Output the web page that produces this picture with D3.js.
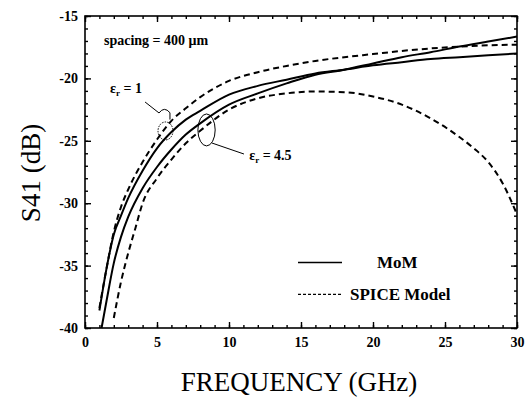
<!DOCTYPE html>
<html>
<head>
<meta charset="utf-8">
<script src="https://cdn.jsdelivr.net/npm/d3@7"></script>
<style>
  html, body { margin: 0; padding: 0; background: #fff; }
  svg { display: block; }
  svg text { font-family: 'Liberation Serif', 'Times New Roman', serif; }
</style>
</head>
<body>
<svg id="chart" width="531" height="399"></svg>
<script>
// ---------- data ----------
const xTicks = [0, 5, 10, 15, 20, 25, 30];
const yTicks = [-40, -35, -30, -25, -20, -15];

const freqE1MoM = [1, 1.5, 2, 2.5, 3, 4, 5, 6, 7, 8, 10, 12, 14, 16, 18, 20, 22, 24, 26, 28, 30];
const s41E1MoM  = [-38.6, -35.2, -32.5, -31.0, -29.6, -27.4, -25.6, -24.3, -23.3, -22.6, -21.3, -20.6, -20.1, -19.6, -19.3, -18.95, -18.7, -18.45, -18.3, -18.15, -18.0];

const freqE1Spice = [1, 1.5, 2, 2.5, 3, 4, 5, 6, 7, 8, 10, 12, 14, 16, 18, 20, 22, 24, 26, 28, 30];
const s41E1Spice  = [-38.4, -35.2, -32.3, -30.3, -28.9, -26.7, -24.9, -23.4, -22.4, -21.5, -20.2, -19.5, -19.0, -18.6, -18.3, -18.05, -17.8, -17.6, -17.45, -17.35, -17.3];

const freqE45MoM = [1.15, 1.5, 2, 2.5, 3, 4, 5, 6, 7, 8, 10, 12, 14, 16, 18, 20, 22, 24, 26, 28, 30];
const s41E45MoM  = [-40, -37.8, -34.8, -32.7, -31.1, -28.8, -27.1, -25.7, -24.5, -23.6, -22.1, -21.2, -20.4, -19.7, -19.3, -18.8, -18.3, -17.9, -17.45, -17.05, -16.65];

const freqE45Spice = [2, 2.5, 3, 3.5, 4, 5, 6, 7, 8, 10, 12, 14, 16, 18, 20, 22, 24, 26, 27, 28, 29, 30];
const s41E45Spice  = [-39.2, -36.3, -34.0, -32.0, -30.0, -28.0, -26.5, -25.2, -24.2, -22.5, -21.6, -21.2, -21.05, -21.1, -21.45, -22.1, -23.2, -24.7, -25.6, -26.7, -28.4, -30.9];

const legendLabels = ["MoM", "SPICE Model"];
const spacingLabel = "spacing = 400 \u03bcm";

// ---------- layout ----------
const svg = d3.select("#chart");
const L = 85, R = 517, T = 16, B = 328;
const x = d3.scaleLinear().domain([0, 30]).range([L, R]);
const y = d3.scaleLinear().domain([-40, -15]).range([B, T]);
const serif = "'Liberation Serif', 'Times New Roman', serif";

// frame
svg.append("rect").attr("x", L).attr("y", T).attr("width", R - L).attr("height", B - T)
  .attr("fill", "none").attr("stroke", "#000").attr("stroke-width", 1.6);

// axes (inward ticks)
function styleAxis(g) {
  g.attr("font-family", null);
  g.select(".domain").remove();
  g.selectAll("line").attr("stroke", "#000").attr("stroke-width", 1.4);
  g.selectAll("text").style("font-family", serif).attr("font-weight", "bold")
    .attr("font-size", 14).attr("fill", "#000");
}
const minorX = d3.range(0, 31, 1), minorY = d3.range(-40, -14, 1);

svg.append("g").attr("transform", `translate(0,${B})`)
  .call(d3.axisBottom(x).tickValues(minorX).tickSize(-3).tickFormat("")).call(styleAxis);
svg.append("g").attr("transform", `translate(0,${B})`)
  .call(d3.axisBottom(x).tickValues(xTicks).tickSize(-6).tickPadding(9).tickFormat(d => String(d))).call(styleAxis);
svg.append("g").attr("transform", `translate(0,${T})`)
  .call(d3.axisTop(x).tickValues(minorX).tickSize(-3).tickFormat("")).call(styleAxis);
svg.append("g").attr("transform", `translate(0,${T})`)
  .call(d3.axisTop(x).tickValues(xTicks).tickSize(-6).tickFormat("")).call(styleAxis);

svg.append("g").attr("transform", `translate(${L},0)`)
  .call(d3.axisLeft(y).tickValues(minorY).tickSize(-3).tickFormat("")).call(styleAxis);
svg.append("g").attr("transform", `translate(${L},0)`)
  .call(d3.axisLeft(y).tickValues(yTicks).tickSize(-6).tickPadding(7).tickFormat(d => String(d))).call(styleAxis);
svg.append("g").attr("transform", `translate(${R},0)`)
  .call(d3.axisRight(y).tickValues(minorY).tickSize(-3).tickFormat("")).call(styleAxis);
svg.append("g").attr("transform", `translate(${R},0)`)
  .call(d3.axisRight(y).tickValues(yTicks).tickSize(-6).tickFormat("")).call(styleAxis);

// axis titles
svg.append("text").attr("x", 299).attr("y", 391).attr("text-anchor", "middle")
  .style("font-family", serif).attr("font-size", 27).attr("fill", "#000").text("FREQUENCY (GHz)");
svg.append("text").attr("transform", `translate(40,173) rotate(-90)`)
  .attr("text-anchor", "middle").style("font-family", serif).attr("font-size", 27).attr("fill", "#000")
  .text("S41 (dB)");

// curves
const line = d3.line().x(d => x(d[0])).y(d => y(d[1])).curve(d3.curveMonotoneX);
const series = [
  { f: freqE1MoM, v: s41E1MoM, dash: null },
  { f: freqE45MoM, v: s41E45MoM, dash: null },
  { f: freqE1Spice, v: s41E1Spice, dash: "6,4" },
  { f: freqE45Spice, v: s41E45Spice, dash: "6,4" }
];
const plot = svg.append("g");
series.forEach(s => {
  plot.append("path").datum(s.f.map((f, i) => [f, s.v[i]]))
    .attr("d", line).attr("fill", "none").attr("stroke", "#000")
    .attr("stroke-width", 2).attr("stroke-dasharray", s.dash);
});

// label: spacing
svg.append("text").attr("x", x(1.32)).attr("y", y(-17.35))
  .style("font-family", serif).attr("font-weight", "bold").attr("font-size", 14)
  .attr("fill", "#000").text(spacingLabel);

// epsilon labels
function epsLabel(fx, fy, val) {
  const t = svg.append("text").attr("x", x(fx)).attr("y", y(fy))
    .style("font-family", serif).attr("font-weight", "bold").attr("font-size", 14).attr("fill", "#000");
  t.append("tspan").text("\u03b5");
  t.append("tspan").attr("font-size", 9).attr("dy", 3).text("r");
  t.append("tspan").attr("dy", -3).text(" = " + val);
}
epsLabel(1.74, -21.17, "1");
epsLabel(11.4, -26.5, "4.5");

// annotation: eps=1 leader + curl + ellipse
const ann = svg.append("g").attr("fill", "none").attr("stroke", "#000").attr("stroke-width", 1);
ann.append("path").attr("d",
  `M${x(4.17)},${y(-21.89)} L${x(5.14)},${y(-22.77)} Q${x(5.5)},${y(-22.2)} ${x(5.9)},${y(-22.75)} L${x(5.9)},${y(-23.3)}`);
ann.append("ellipse").attr("cx", x(5.59)).attr("cy", y(-24.21))
  .attr("rx", x(0.52) - x(0)).attr("ry", y(-15.72) - y(-15)).attr("stroke-dasharray", "1.5,1.2");
// annotation: eps=4.5
ann.append("ellipse").attr("cx", x(8.44)).attr("cy", y(-24.13))
  .attr("rx", x(0.6) - x(0)).attr("ry", y(-16.28) - y(-15));
ann.append("path").attr("d", `M${x(8.82)},${y(-25.18)} L${x(11.04)},${y(-26.06)}`);

// legend
const leg = svg.append("g");
const legRows = [{ dash: null, w: 1.3, ty: -34.75, tx: 377 }, { dash: "3,2", w: 1.3, ty: -37.3, tx: 350 }];
legRows.forEach((r, i) => {
  leg.append("line").attr("x1", 298).attr("x2", 342).attr("y1", y(r.ty)).attr("y2", y(r.ty))
    .attr("stroke", "#000").attr("stroke-width", r.w).attr("stroke-dasharray", r.dash);
  leg.append("text").attr("x", r.tx).attr("y", y(r.ty) + 6)
    .style("font-family", serif).attr("font-weight", "bold").attr("font-size", 17).attr("fill", "#000")
    .text(legendLabels[i]);
});
</script>
</body>
</html>
